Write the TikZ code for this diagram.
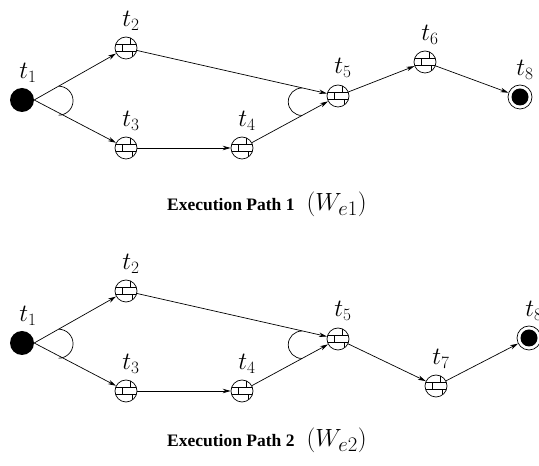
\documentclass[tikz,border=0pt]{standalone}
\usepackage{fontspec}
\setmainfont{Liberation Serif}
\usetikzlibrary{arrows.meta,calc}
\tikzset{
  ln/.style={line width=0.7pt},
  arr/.style={ln,-{Stealth[length=8pt,width=4.5pt]}},
  brick/.style={circle,draw,ln,minimum size=22pt,inner sep=0pt,fill=white,
    path picture={
      \begin{scope}[shift={(path picture bounding box.center)}]
        \draw[ln] (-12pt,3.8pt) -- (12pt,3.8pt);
        \draw[ln] (-12pt,-3.8pt) -- (12pt,-3.8pt);
        \draw[ln] (4.5pt,3.8pt) -- (4.5pt,12pt);
        \draw[ln] (-3.5pt,-3.8pt) -- (-3.5pt,3.8pt);
        \draw[ln] (6pt,-3.8pt) -- (6pt,-12pt);
      \end{scope}}},
  startn/.style={circle,fill=black,minimum size=24pt,inner sep=0pt},
  endn/.style={circle,draw,ln,fill=white,minimum size=24pt,inner sep=0pt},
  lbl/.style={inner sep=0pt,font=\fontsize{25}{28}\selectfont},
  captxt/.style={inner sep=0pt,anchor=base west}
}
\newcommand{\captionline}[2]{{\fontsize{17.5}{20}\selectfont\bfseries Execution Path #1}\hspace{12pt}{\fontsize{29}{32}\selectfont$(W_{#2})$}}
\begin{document}
\begin{tikzpicture}[x=1pt,y=1pt]
\useasboundingbox (0,0) rectangle (539,466);
% ---------- Path 1 ----------
\node[startn] (a1) at (22,366) {};
\node[brick] (a2) at (126,418) {};
\node[brick] (a3) at (126,318) {};
\node[brick] (a4) at (242,318) {};
\node[brick] (a5) at (338,370) {};
\node[brick] (a6) at (425,404) {};
\node[endn] (a8) at (520,369) {};
\fill (a8.center) circle (8.5pt);
\node[lbl] (la1) at ([shift={(6,27)}]a1.center) {$t_1$};
\node[lbl] (la2) at ([shift={(5,27)}]a2.center) {$t_2$};
\node[lbl] (la3) at ([shift={(5,27)}]a3.center) {$t_3$};
\node[lbl] (la4) at ([shift={(5,27)}]a4.center) {$t_4$};
\node[lbl] (la5) at ([shift={(5,28)}]a5.center) {$t_5$};
\node[lbl] (la6) at ([shift={(5,27)}]a6.center) {$t_6$};
\node[lbl] (la8) at ([shift={(5,27)}]a8.center) {$t_8$};
\draw[arr] (a1.east) -- (a2);
\draw[arr] (a1.east) -- (a3);
\draw[arr] (a3) -- (a4);
\draw[arr] (a2) -- (a5);
\draw[arr] (a4) -- (a5);
\draw[arr] (a5) -- (a6);
\draw[arr] (a6) -- (a8);
\draw[ln] ($(a1.east)!28pt!(a2)$) arc[start angle=90,end angle=-90,radius=14.5pt];
\draw[ln] (302,378) arc[start angle=90,end angle=270,radius=13.75pt];
\node[captxt] (c1) at (167,255) {\captionline{1}{e1}};
% ---------- Path 2 ----------
\node[startn] (b1) at (22,123) {};
\node[brick] (b2) at (126,175) {};
\node[brick] (b3) at (126,75) {};
\node[brick] (b4) at (242,75) {};
\node[brick] (b5) at (338,127) {};
\node[brick] (b7) at (436,80) {};
\node[endn] (b8) at (529,128) {};
\fill (b8.center) circle (8.5pt);
\node[lbl] (lb1) at ([shift={(6,27)}]b1.center) {$t_1$};
\node[lbl] (lb2) at ([shift={(5,27)}]b2.center) {$t_2$};
\node[lbl] (lb3) at ([shift={(5,27)}]b3.center) {$t_3$};
\node[lbl] (lb4) at ([shift={(5,27)}]b4.center) {$t_4$};
\node[lbl] (lb5) at ([shift={(5,28)}]b5.center) {$t_5$};
\node[lbl] (lb7) at ([shift={(5,27)}]b7.center) {$t_7$};
\node[lbl] (lb8) at ([shift={(5,27)}]b8.center) {$t_8$};
\draw[arr] (b1.east) -- (b2);
\draw[arr] (b1.east) -- (b3);
\draw[arr] (b3) -- (b4);
\draw[arr] (b2) -- (b5);
\draw[arr] (b4) -- (b5);
\draw[arr] (b5) -- (b7);
\draw[arr] (b7) -- (b8);
\draw[ln] ($(b1.east)!28pt!(b2)$) arc[start angle=90,end angle=-90,radius=14.5pt];
\draw[ln] (302,135) arc[start angle=90,end angle=270,radius=13.75pt];
\node[captxt] (c2) at (167,19) {\captionline{2}{e2}};
\end{tikzpicture}
\end{document}
